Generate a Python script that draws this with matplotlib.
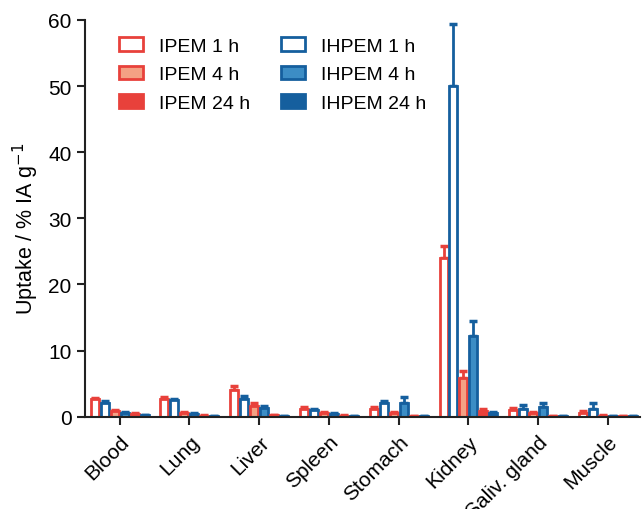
import numpy as np
import matplotlib.pyplot as plt

# Data
organs = ['Blood', 'Lung', 'Liver', 'Spleen', 'Stomach', 'Kidney', 'Saliv. gland', 'Muscle']

ipem_1h = [2.6, 2.7, 4.0, 1.1, 1.1, 24.0, 1.0, 0.6]
ipem_1h_err = [0.3, 0.3, 0.6, 0.3, 0.3, 1.8, 0.3, 0.3]
ihpem_1h = [2.1, 2.5, 2.7, 1.0, 2.0, 50.0, 1.2, 1.1]
ihpem_1h_err = [0.3, 0.2, 0.4, 0.2, 0.4, 9.4, 0.6, 0.9]
ipem_4h = [0.8, 0.5, 1.6, 0.5, 0.5, 5.8, 0.5, 0.15]
ipem_4h_err = [0.2, 0.2, 0.5, 0.15, 0.2, 1.1, 0.2, 0.05]
ihpem_4h = [0.6, 0.4, 1.3, 0.4, 2.0, 12.2, 1.5, 0.1]
ihpem_4h_err = [0.1, 0.1, 0.3, 0.1, 1.0, 2.2, 0.5, 0.05]
ipem_24h = [0.4, 0.15, 0.2, 0.15, 0.1, 0.8, 0.1, 0.05]
ipem_24h_err = [0.1, 0.05, 0.05, 0.05, 0.05, 0.3, 0.05, 0.02]
ihpem_24h = [0.2, 0.1, 0.1, 0.1, 0.1, 0.5, 0.1, 0.05]
ihpem_24h_err = [0.05, 0.05, 0.05, 0.05, 0.05, 0.2, 0.05, 0.02]

red = '#E8413B'
red_light = '#F4A184'
blue = '#155F9E'
blue_light = '#3C8DC5'

plt.rcParams['font.family'] = ['Liberation Sans', 'DejaVu Sans']

fig = plt.figure(figsize=(6.42, 5.10), dpi=100)
ax = fig.add_axes([0.132, 0.181, 0.865, 0.778])

x = np.arange(len(organs))
w = 0.143

# Series in drawing order within each group
series = [
    (ipem_1h, ipem_1h_err, 'white', red, 'IPEM 1 h'),
    (ihpem_1h, ihpem_1h_err, 'white', blue, 'IHPEM 1 h'),
    (ipem_4h, ipem_4h_err, red_light, red, 'IPEM 4 h'),
    (ihpem_4h, ihpem_4h_err, blue_light, blue, 'IHPEM 4 h'),
    (ipem_24h, ipem_24h_err, red, red, 'IPEM 24 h'),
    (ihpem_24h, ihpem_24h_err, blue, blue, 'IHPEM 24 h'),
]

handles = {}
for k, (vals, errs, face, edge, label) in enumerate(series):
    pos = x + (k - 2.5) * w
    b = ax.bar(pos, vals, width=w * 0.8, color=face, edgecolor=edge,
               linewidth=2, label=label, zorder=2)
    ax.errorbar(pos, vals, yerr=[np.zeros(len(vals)), errs], fmt='none',
                ecolor=edge, elinewidth=2, capsize=3, capthick=2.5, zorder=1)
    handles[label] = b

# Axes styling
ax.set_ylim(0, 60)
ax.set_xlim(-0.5, 7.46)
ax.set_yticks(range(0, 61, 10))
ax.set_xticks(x)
ax.set_xticklabels(organs, rotation=45, ha='right', rotation_mode='anchor',
                   fontsize=15)
ax.tick_params(axis='both', labelsize=15, width=1.5, length=6, color='#222222')
ax.tick_params(axis='x', pad=5)
ax.spines['top'].set_visible(False)
ax.spines['right'].set_visible(False)
for s in ['left', 'bottom']:
    ax.spines[s].set_linewidth(1.5)
    ax.spines[s].set_color('#222222')
ax.set_ylabel('Uptake / % IA g$^{-1}$', fontsize=15.5)
ax.yaxis.set_label_coords(-0.078, 0.477)

order = ['IPEM 1 h', 'IPEM 4 h', 'IPEM 24 h', 'IHPEM 1 h', 'IHPEM 4 h', 'IHPEM 24 h']
ax.legend([handles[o] for o in order], order, ncol=2, frameon=False,
          fontsize=14, loc='upper left', bbox_to_anchor=(0.03, 1.0),
          handlelength=1.25, handleheight=0.7, columnspacing=1.6,
          labelspacing=0.55)

fig.savefig('out.png', dpi=100)
